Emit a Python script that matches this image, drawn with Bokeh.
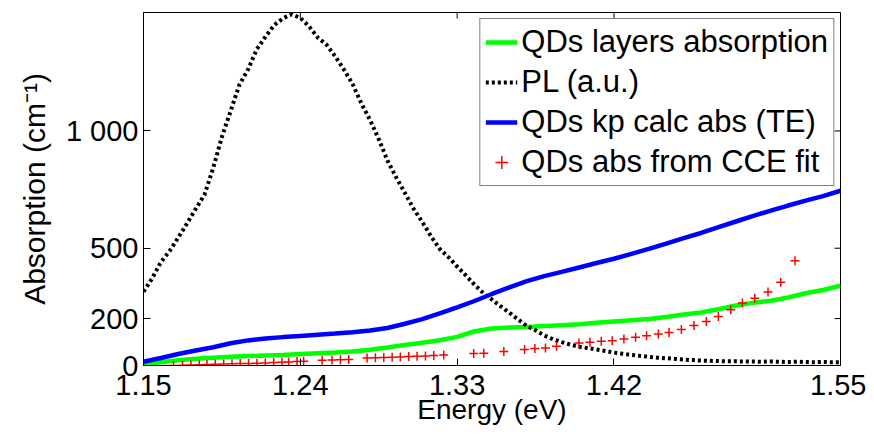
import math
from bokeh.plotting import figure
from bokeh.models import Range1d, FixedTicker, Legend, LegendItem
from bokeh.embed import file_html
from bokeh.resources import INLINE

# ---------------- data ----------------
pl_x = [1.150, 1.155, 1.160, 1.165, 1.170, 1.175, 1.180, 1.185, 1.190, 1.195,
        1.200, 1.205, 1.210, 1.215, 1.220, 1.225, 1.230, 1.235, 1.240, 1.245,
        1.250, 1.255, 1.260, 1.265, 1.270, 1.275, 1.280, 1.285, 1.290, 1.295,
        1.300, 1.305, 1.310, 1.315, 1.320, 1.325, 1.330, 1.335, 1.340, 1.345,
        1.350, 1.355, 1.360, 1.365, 1.370, 1.375, 1.380, 1.385, 1.390, 1.395,
        1.400, 1.405, 1.410, 1.415, 1.420, 1.425, 1.430, 1.435, 1.440, 1.445,
        1.450, 1.455, 1.460, 1.465, 1.470, 1.475, 1.480, 1.485, 1.490, 1.495,
        1.500, 1.505, 1.510, 1.515, 1.520, 1.525, 1.530, 1.535, 1.540, 1.545, 1.550]
pl_y = [315, 372, 441, 488, 546, 606, 668, 728, 842, 975,
        1085, 1196, 1262, 1348, 1402, 1451, 1480, 1497, 1482, 1446,
        1398, 1368, 1318, 1262, 1200, 1118, 1047, 965, 874, 802,
        736, 668, 612, 551, 497, 462, 422, 384, 344, 309,
        281, 252, 225, 196, 168, 150, 128, 112, 100, 89,
        80, 74, 68, 62, 55, 50, 45, 41, 37, 33,
        31, 28, 25, 23, 21, 20, 19, 18, 18, 17,
        17, 16, 17, 16, 15, 16, 15, 14, 15, 14, 14]

e_x = [1.15, 1.16, 1.17, 1.18, 1.19, 1.20, 1.21, 1.22, 1.23, 1.24, 1.25,
       1.26, 1.27, 1.28, 1.29, 1.30, 1.31, 1.32, 1.33, 1.34, 1.35, 1.36,
       1.37, 1.38, 1.39, 1.40, 1.41, 1.42, 1.43, 1.44, 1.45, 1.46, 1.47,
       1.48, 1.49, 1.50, 1.51, 1.52, 1.53, 1.54, 1.55]
kp_y = [16, 32, 49, 64, 78, 95, 107, 115, 121, 126, 131,
        136, 142, 149, 160, 178, 198, 222, 248, 275, 305, 333,
        360, 381, 399, 418, 437, 455, 476, 497, 520, 543, 565,
        590, 614, 638, 660, 682, 703, 722, 745]
layers_y = [5, 14, 22, 29, 33, 37, 40, 43, 45, 49, 52,
            55, 60, 67, 77, 87, 97, 108, 122, 146, 158, 162,
            164, 168, 172, 176, 182, 188, 193, 198, 207, 217, 226,
            240, 256, 268, 276, 290, 308, 322, 340]

cce_x = [1.1672, 1.1724, 1.1772, 1.1820, 1.1864, 1.1912, 1.1960, 1.2008, 1.2055,
         1.2103, 1.2151, 1.2199, 1.2247, 1.2295, 1.2333, 1.2381, 1.2419,
         1.2525, 1.2582, 1.2630, 1.2678,
         1.2783, 1.2831, 1.2879, 1.2927, 1.2974, 1.3022, 1.3070, 1.3118, 1.3166, 1.3223,
         1.3395, 1.3453, 1.3568,
         1.3687, 1.3746, 1.3807, 1.3870,
         1.3999, 1.4062, 1.4127, 1.4190, 1.4257, 1.4324, 1.4387, 1.4455, 1.4516,
         1.4587, 1.4659, 1.4730, 1.4799, 1.4870, 1.4937, 1.5008, 1.5084, 1.5157, 1.5239]
cce_y = [0, 1, 2, 3, 4, 5, 6, 7, 8, 9, 10, 11, 13, 14, 15, 17, 18,
         22, 23, 24, 26,
         32, 33, 34, 35, 36, 38, 39, 41, 43, 45,
         51, 52, 60,
         68, 72, 75, 82,
         96, 99, 103, 106, 113, 120, 127, 134, 141,
         153, 171, 188, 209, 238, 266, 287, 313, 355, 447]

x_ticks = [1.15, 1.24, 1.33, 1.42, 1.55]
y_ticks = [0, 200, 500, 1000]
y_tick_labels = {1000: "1 000"}

FONT = "Liberation Sans"
X0, X1 = 1.15, 1.55
Y0, Y1 = 0, 1505

p = figure(width=866, height=427, output_backend="svg", toolbar_location=None,
           x_range=Range1d(X0, X1), y_range=Range1d(Y0, Y1),
           min_border_left=143, min_border_right=26, min_border_top=12,
           min_border_bottom=61)
p.xgrid.visible = False
p.ygrid.visible = False
p.outline_line_color = "black"
p.outline_line_width = 1
p.background_fill_color = "white"
p.border_fill_color = "white"

r_layers = p.line(e_x, layers_y, line_color="#00FF00", line_width=4.5)
r_pl = p.line(pl_x, pl_y, line_color="black", line_width=4, line_dash="3 3")
r_kp = p.line(e_x, kp_y, line_color="#0000FF", line_width=4.5)
r_cce = p.scatter(cce_x, cce_y, marker="cross", size=9, line_color="#FF0000",
                  line_width=1.5)

# mirrored inner ticks on the top and right edges (clipped half-dashes)
p.scatter(x_ticks, [Y1] * len(x_ticks), marker="dash", angle=math.pi / 2,
          size=12, line_color="black", line_width=1)
p.scatter([X1] * len(y_ticks), y_ticks, marker="dash", size=12,
          line_color="black", line_width=1)

for ax in (p.xaxis[0], p.yaxis[0]):
    ax.major_tick_in = 7
    ax.major_tick_out = 0
    ax.minor_tick_in = 0
    ax.minor_tick_out = 0
    ax.axis_line_color = "black"
    ax.major_tick_line_color = "black"
    ax.major_label_text_font = FONT
    ax.major_label_text_color = "black"
    ax.major_label_text_font_size = "29px"
    ax.axis_label_text_font = FONT
    ax.axis_label_text_font_style = "normal"
    ax.axis_label_text_color = "black"

p.xaxis[0].ticker = FixedTicker(ticks=x_ticks)
p.yaxis[0].ticker = FixedTicker(ticks=y_ticks)
p.yaxis[0].major_label_overrides = y_tick_labels
p.xaxis[0].axis_label = "Energy (eV)"
p.yaxis[0].axis_label = "Absorption (cm⁻¹)"
p.xaxis[0].axis_label_text_font_size = "28px"
p.yaxis[0].axis_label_text_font_size = "30px"
p.xaxis[0].major_label_standoff = 9
p.xaxis[0].axis_label_standoff = -4
p.yaxis[0].major_label_standoff = 5
p.yaxis[0].axis_label_standoff = 12

legend = Legend(items=[
    LegendItem(label="QDs layers absorption", renderers=[r_layers]),
    LegendItem(label="PL (a.u.)", renderers=[r_pl]),
    LegendItem(label="QDs kp calc abs (TE)", renderers=[r_kp]),
    LegendItem(label="QDs abs from CCE fit", renderers=[r_cce]),
], location="top_right")
legend.label_text_font = FONT
legend.label_text_font_size = "31px"
legend.label_text_color = "black"
legend.border_line_color = "black"
legend.border_line_width = 1
legend.background_fill_alpha = 1
legend.glyph_width = 32
legend.glyph_height = 34
legend.label_height = 34
legend.label_standoff = 4
legend.spacing = 4
legend.padding = 5
legend.margin = 6
p.add_layout(legend, "center")

open("out.html", "w").write(file_html(p, INLINE))
